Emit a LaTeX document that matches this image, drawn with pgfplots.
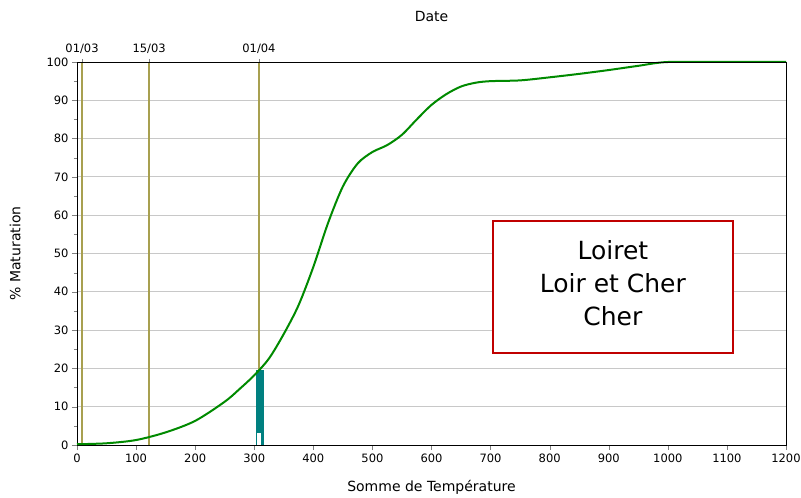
\documentclass[border=0pt]{standalone}
\usepackage{fontspec}
\setmainfont{DejaVu Sans}
\usepackage{pgfplots}
\pgfplotsset{compat=1.18}
\definecolor{curvegreen}{HTML}{008A00}
\definecolor{dateline}{HTML}{A8A050}
\definecolor{barteal}{HTML}{008080}
\definecolor{boxred}{HTML}{C00000}
\definecolor{gridgray}{HTML}{C8C8C8}

\begin{document}
\begin{tikzpicture}
  \pgfplotsset{
    base/.style={
      scale only axis, width=709pt, height=383pt,
      at={(0,0)}, anchor=south west,
      xmin=0, xmax=1200, ymin=0, ymax=100,
      tick label style={font=\fontsize{11.5}{13}\selectfont},
      label style={font=\fontsize{14}{16}\selectfont},
      /pgf/number format/assume math mode=true,
      /pgf/number format/1000 sep={},
      tick align=outside, major tick length=5pt, minor tick length=3pt,
    }
  }
  \begin{axis}[base,
      xtick={0,100,...,1200}, ytick={0,10,...,100}, minor ytick={5,15,...,95},
      xtick pos=bottom, ytick pos=left,
      ymajorgrids, grid style={gridgray, line width=0.8pt},
      xlabel={Somme de Température}, ylabel={\% Maturation},
      xlabel style={yshift=-11pt}, ylabel style={yshift=19pt},
      axis line style={line width=0.8pt},
      clip=false]
    \addplot[dateline, line width=1.3pt] coordinates {(8.5,0) (8.5,100)};
    \addplot[dateline, line width=1.3pt] coordinates {(122,0) (122,100)};
    \addplot[dateline, line width=1.3pt] coordinates {(308,0) (308,100)};
    \addplot[ybar, bar width=14, bar shift=0pt, fill=barteal, draw=none] coordinates {(310,19.6)};
    \addplot[ybar, bar width=6.5, bar shift=0pt, fill=white, draw=none] coordinates {(308.5,3.2)};
    \addplot[curvegreen, line width=2pt, smooth, tension=0.5] coordinates {
      (0,0.2) (50,0.45) (100,1.3) (150,3.3) (200,6.3) (250,11.3)
      (275,14.6) (300,18.2) (325,22.6) (350,29.0) (375,36.5) (400,46.5)
      (425,58.0) (450,67.5) (475,73.5) (500,76.5) (525,78.3) (550,81.0)
      (575,85.0) (600,88.8) (625,91.6) (650,93.6) (675,94.6) (700,95.0)
      (750,95.2) (800,96.0) (850,96.9) (900,97.9) (950,99.0) (1000,100)
      (1100,100) (1200,100)};
    \draw[boxred, line width=2.5pt, fill=white] (axis cs:704,24) rectangle (axis cs:1110,58.5);
    \node[align=center, font=\fontsize{25}{33}\selectfont] at (axis cs:907,42.2)
      {Loiret\\Loir et Cher\\Cher};
  \end{axis}
  \begin{axis}[base,
      axis x line*=top, axis y line=none,
      xtick={8.5,122,308}, xticklabels={01/03,15/03,01/04},
      major tick length=3pt,
      xticklabel style={yshift=2pt},
      xlabel={Date}, xlabel style={yshift=15pt},
      axis line style={line width=0.8pt}]
    \addplot[draw=none] coordinates {(0,0) (1200,100)};
  \end{axis}
  \pgfresetboundingbox
  \path[use as bounding box] (-77pt,-53pt) rectangle (724pt,445pt);
\end{tikzpicture}
\end{document}
